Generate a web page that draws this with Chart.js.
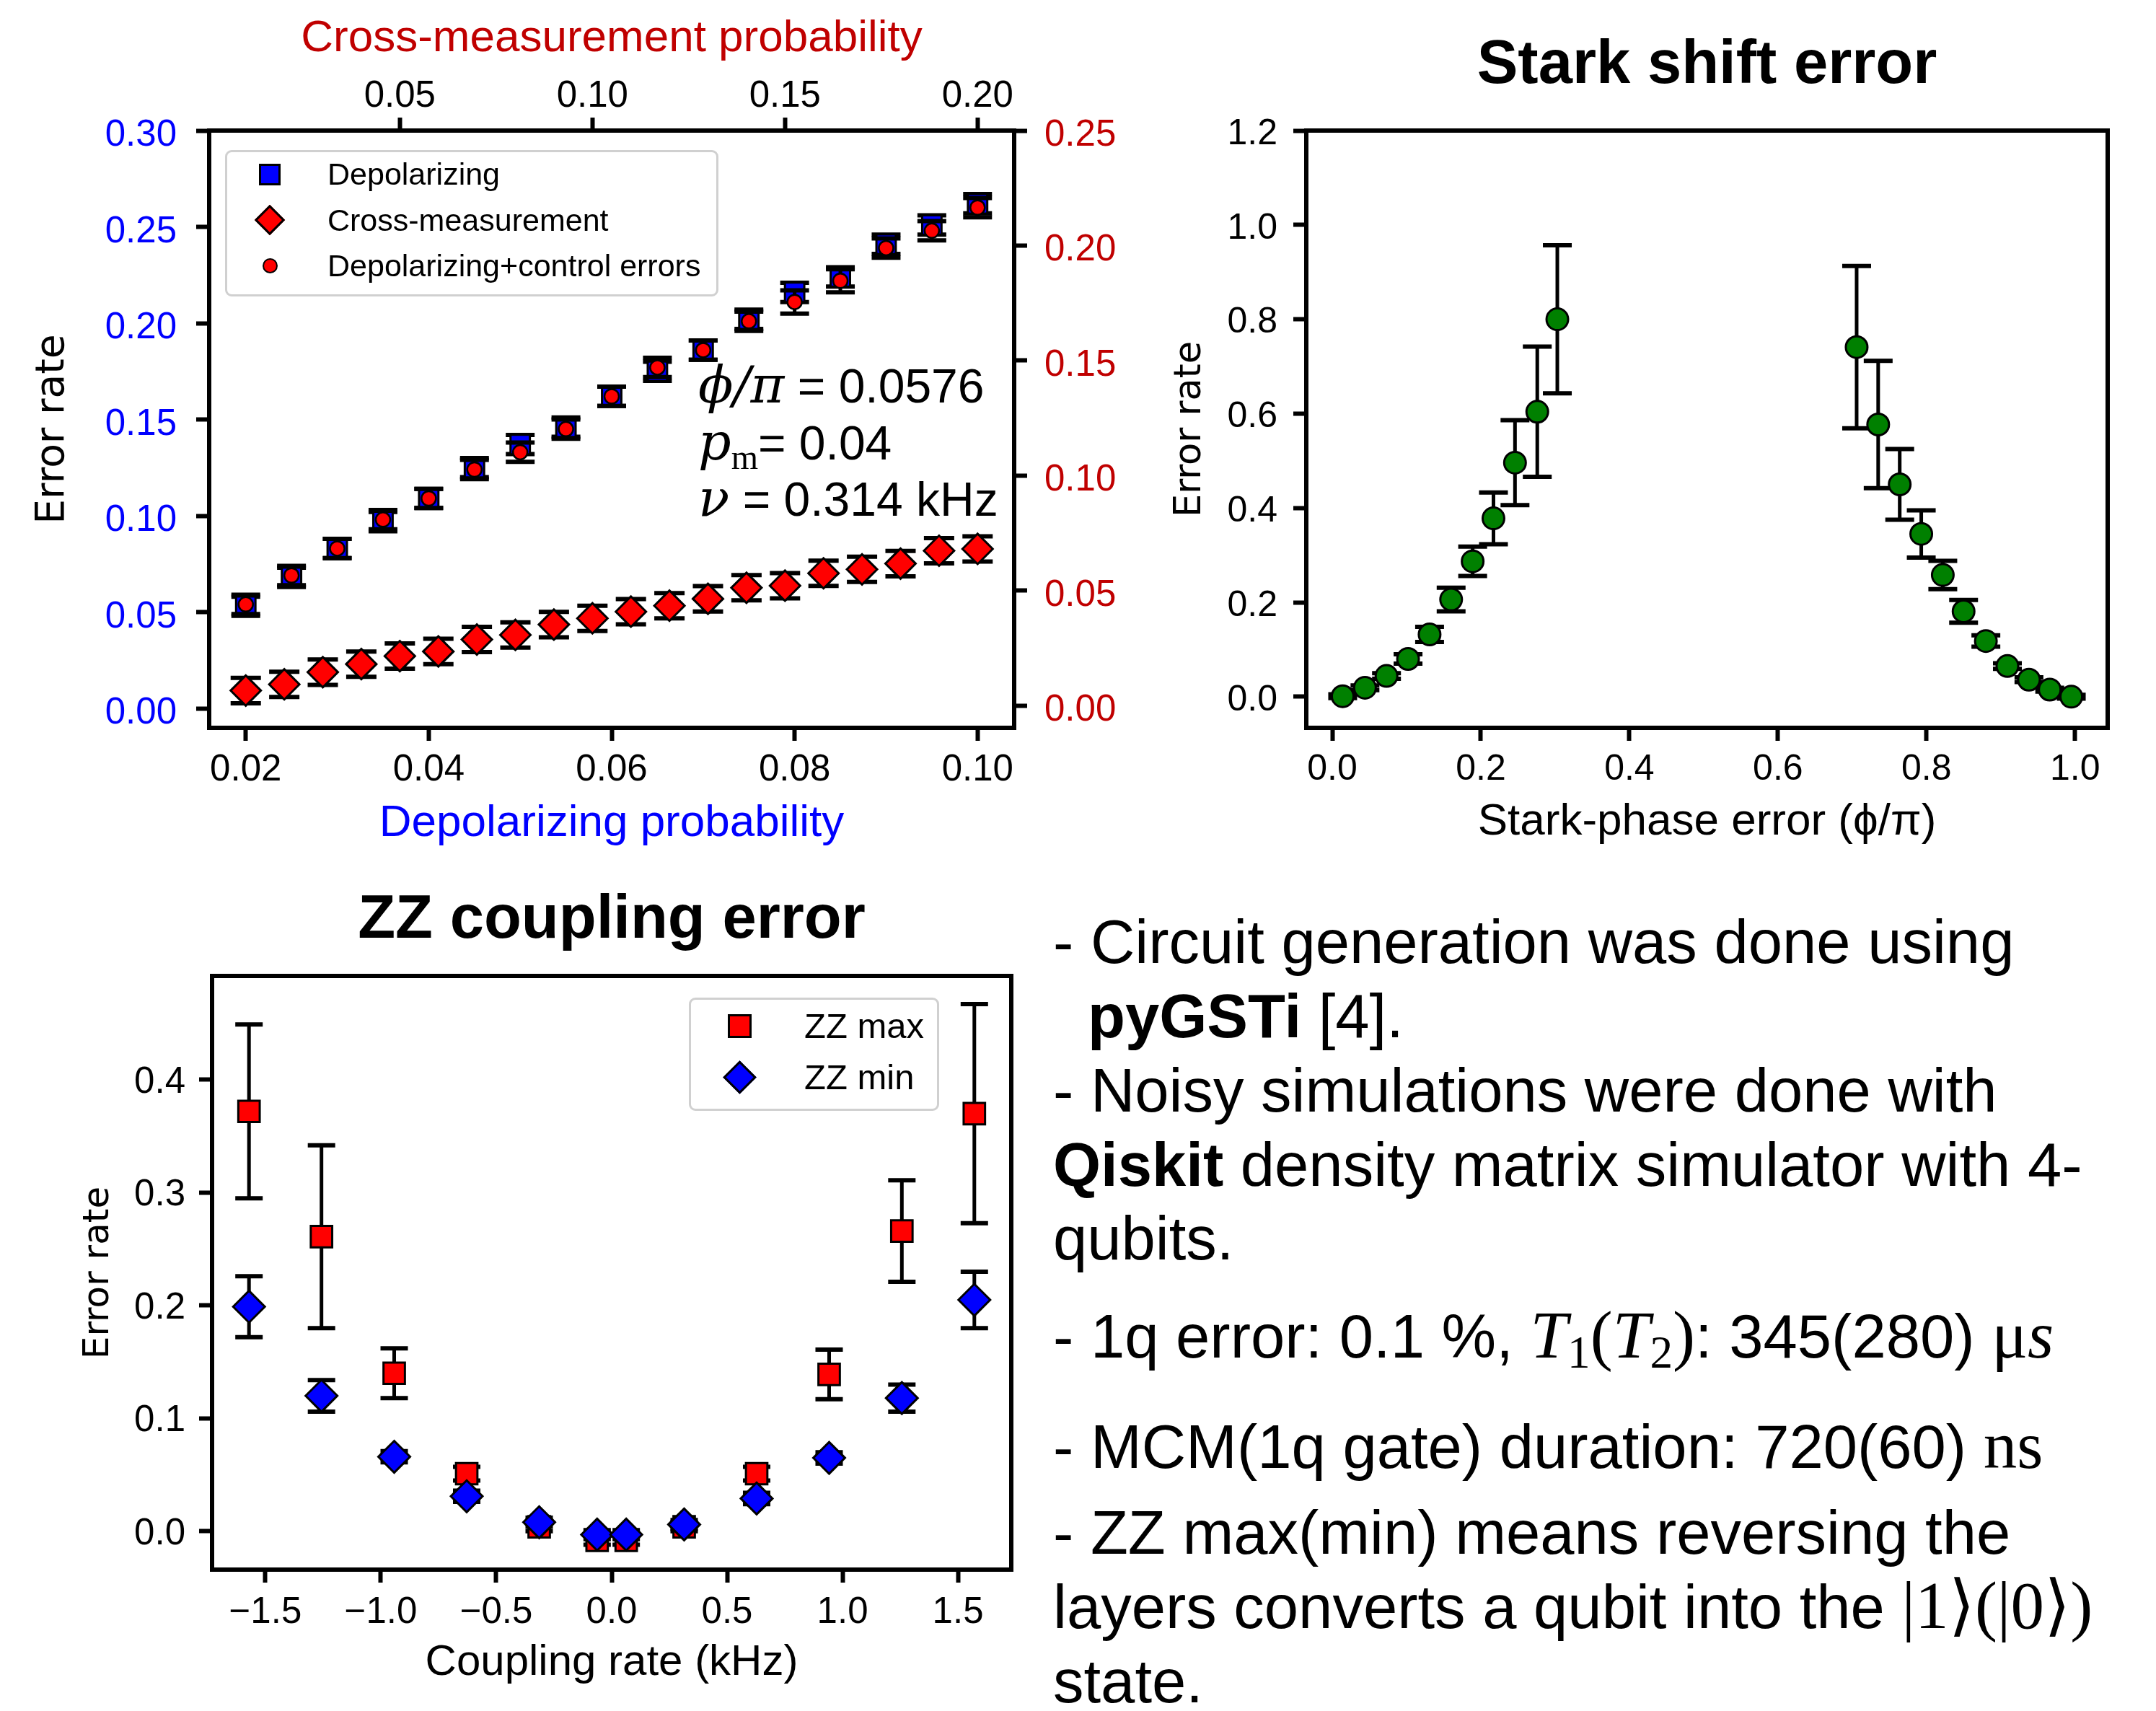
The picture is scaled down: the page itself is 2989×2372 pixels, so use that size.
<!DOCTYPE html>
<html>
<head>
<meta charset="utf-8">
<title>Error rates</title>
<script src="https://cdn.jsdelivr.net/npm/chart.js@4.4.1/dist/chart.umd.min.js"></script>
<style>
  body { margin:0; width:2989px; height:2372px; position:relative; background:#fff; overflow:hidden;
         font-family:"Liberation Sans", Arial, sans-serif; color:#000; }
  canvas { position:absolute; }
  .legend { position:absolute; border:3px solid #d0d0d0; border-radius:9px; background:rgba(255,255,255,0.8); box-sizing:border-box; }
  .lbl { position:absolute; white-space:nowrap; }
  .mk { position:absolute; box-sizing:border-box; border:3px solid #000; }
  .ann { position:absolute; left:968px; font-size:66px; line-height:66px; white-space:nowrap; }
  .mi { font-family:"DejaVu Serif", "Liberation Serif", serif; font-style:italic; line-height:0; font-size:1.08em; }
  .mr { font-family:"Liberation Serif", "DejaVu Serif", serif; line-height:0; }
  .txt { position:absolute; left:1460px; font-size:85px; line-height:85px; white-space:nowrap; }
  .ms { font-family:"Liberation Serif", "DejaVu Serif", serif; font-size:93px; line-height:0; }
  .ms sub { font-size:0.68em; vertical-align:-0.22em; line-height:0; }
</style>
</head>
<body>
<canvas id="depolChart" width="1580" height="1200" style="left:0;top:0"></canvas>
<canvas id="starkChart" width="1389" height="1200" style="left:1600px;top:0"></canvas>
<canvas id="zzChart" width="1450" height="1172" style="left:0;top:1200px"></canvas>

<!-- legend, top left panel -->
<div class="legend" style="left:312px;top:208px;width:684px;height:203px;"></div>
<div class="mk" style="left:359px;top:227px;width:30px;height:30px;background:#0000ff;"></div>
<div class="mk" style="left:359px;top:290px;width:30px;height:30px;background:#ff0000;transform:rotate(45deg);"></div>
<div class="mk" style="left:364px;top:358px;width:21px;height:21px;background:#ff0000;border-width:2.5px;border-radius:50%;"></div>
<div class="lbl" style="left:454px;top:220px;font-size:43px;line-height:43px;">Depolarizing</div>
<div class="lbl" style="left:454px;top:284px;font-size:43px;line-height:43px;">Cross-measurement</div>
<div class="lbl" style="left:454px;top:347px;font-size:43px;line-height:43px;">Depolarizing+control errors</div>

<!-- parameters, top left panel -->
<div class="ann" style="top:502px"><span class="mi">ϕ/π</span> = 0.0576</div>
<div class="ann" style="top:581px"><span class="mi">p</span><span class="mr" style="font-size:48px;position:relative;top:13px;">m</span>= 0.04</div>
<div class="ann" style="top:659px"><span class="mi">ν</span> = 0.314 kHz</div>

<!-- legend, ZZ panel -->
<div class="legend" style="left:955px;top:1383px;width:347px;height:157px;"></div>
<div class="mk" style="left:1009px;top:1406px;width:33px;height:33px;background:#ff0000;"></div>
<div class="mk" style="left:1009px;top:1477px;width:33px;height:33px;background:#0000ff;transform:rotate(45deg);"></div>
<div class="lbl" style="left:1115px;top:1398px;font-size:49px;line-height:49px;">ZZ max</div>
<div class="lbl" style="left:1115px;top:1469px;font-size:49px;line-height:49px;">ZZ min</div>

<!-- notes -->
<div class="txt" style="top:1263px">- Circuit generation was done using</div>
<div class="txt" style="top:1366px;left:1508px"><b>pyGSTi</b> [4].</div>
<div class="txt" style="top:1469px">- Noisy simulations were done with</div>
<div class="txt" style="top:1572px"><b>Qiskit</b> density matrix simulator with 4-</div>
<div class="txt" style="top:1674px">qubits.</div>
<div class="txt" style="top:1810px">- 1q error: 0.1 %, <span class="ms"><i>T</i><sub>1</sub>(<i>T</i><sub>2</sub>)</span>: 345(280) <span class="ms">μ<i>s</i></span></div>
<div class="txt" style="top:1963px">- MCM(1q gate) duration: 720(60) <span class="ms">ns</span></div>
<div class="txt" style="top:2082px">- ZZ max(min) means reversing the</div>
<div class="txt" style="top:2185px">layers converts a qubit into the <span class="ms">|1⟩(|0⟩)</span></div>
<div class="txt" style="top:2288px">state.</div>

<script>
// depolarizing / cross-measurement panel
var depolProb = [0.020, 0.025, 0.030, 0.035, 0.040, 0.045, 0.050, 0.055, 0.060, 0.065, 0.070, 0.075, 0.080, 0.085, 0.090, 0.095, 0.100];
var depolRate = [0.053, 0.068, 0.083, 0.097, 0.109, 0.125, 0.137, 0.146, 0.162, 0.175, 0.186, 0.202, 0.216, 0.224, 0.241, 0.251, 0.262];
var depolErr  = [0.005, 0.005, 0.005, 0.005, 0.005, 0.005, 0.005, 0.005, 0.005, 0.005, 0.005, 0.005, 0.005, 0.005, 0.005, 0.005, 0.005];
var ctrlRate  = [0.054, 0.069, 0.083, 0.098, 0.109, 0.124, 0.133, 0.145, 0.162, 0.177, 0.186, 0.201, 0.211, 0.222, 0.239, 0.248, 0.260];
var ctrlErr   = [0.005, 0.005, 0.005, 0.005, 0.005, 0.005, 0.005, 0.005, 0.005, 0.005, 0.005, 0.005, 0.006, 0.006, 0.005, 0.005, 0.005];
var crossProb = [0.01, 0.02, 0.03, 0.04, 0.05, 0.06, 0.07, 0.08, 0.09, 0.10, 0.11, 0.12, 0.13, 0.14, 0.15, 0.16, 0.17, 0.18, 0.19, 0.20];
var crossRate = [0.0065, 0.0092, 0.0145, 0.0180, 0.0215, 0.0235, 0.0287, 0.0307, 0.0352, 0.0379, 0.0408, 0.0434, 0.0464, 0.0512, 0.0521, 0.0575, 0.0592, 0.0617, 0.0673, 0.0681];
var crossErr  = [0.0055, 0.0055, 0.0055, 0.0055, 0.0055, 0.0055, 0.0055, 0.0055, 0.0055, 0.0055, 0.0055, 0.0055, 0.0055, 0.0055, 0.0055, 0.0055, 0.0055, 0.0055, 0.0055, 0.0055];
var depolTicks = [0.02, 0.04, 0.06, 0.08, 0.10];
var crossTicks = [0.05, 0.10, 0.15, 0.20];
var leftTicks  = [0, 0.05, 0.10, 0.15, 0.20, 0.25, 0.30];
var rightTicks = [0, 0.05, 0.10, 0.15, 0.20, 0.25];

// stark shift panel
var starkPhase = [0.014, 0.044, 0.073, 0.102, 0.131, 0.160, 0.189, 0.217, 0.246, 0.276, 0.303,
                  0.706, 0.735, 0.764, 0.793, 0.822, 0.850, 0.880, 0.909, 0.938, 0.966, 0.995];
var starkRate  = [0.001, 0.019, 0.044, 0.080, 0.132, 0.206, 0.287, 0.378, 0.496, 0.604, 0.800,
                  0.741, 0.577, 0.450, 0.345, 0.258, 0.181, 0.118, 0.065, 0.036, 0.015, 0.000];
var starkErr   = [0.004, 0.005, 0.006, 0.010, 0.016, 0.025, 0.031, 0.055, 0.090, 0.138, 0.157,
                  0.172, 0.135, 0.075, 0.050, 0.030, 0.024, 0.012, 0.006, 0.005, 0.004, 0.004];
var starkXTicks = [0, 0.2, 0.4, 0.6, 0.8, 1.0];
var starkYTicks = [0, 0.2, 0.4, 0.6, 0.8, 1.0, 1.2];

// ZZ coupling panel
var zzRate   = [-1.571, -1.257, -0.942, -0.628, -0.314, -0.063, 0.063, 0.314, 0.628, 0.942, 1.257, 1.571];
var zzMax    = [0.372, 0.261, 0.140, 0.051, 0.004, -0.008, -0.008, 0.004, 0.051, 0.139, 0.266, 0.370];
var zzMaxErr = [0.077, 0.081, 0.022, 0.006, 0.004, 0.004, 0.004, 0.004, 0.006, 0.022, 0.045, 0.097];
var zzMin    = [0.199, 0.120, 0.066, 0.031, 0.008, -0.003, -0.003, 0.006, 0.029, 0.065, 0.118, 0.205];
var zzMinErr = [0.027, 0.014, 0.005, 0.005, 0.004, 0.004, 0.004, 0.004, 0.005, 0.005, 0.012, 0.025];
var zzXTicks = [-1.5, -1.0, -0.5, 0, 0.5, 1.0, 1.5];
var zzYTicks = [0, 0.1, 0.2, 0.3, 0.4];


function toPoints(xs, ys) {
    return xs.map(function (x, i) { return { x: x, y: ys[i] }; });
}

// vertical error bars, drawn just before each dataset's markers
var errorBars = {
    id: 'errorBars',
    beforeDatasetDraw: function (chart, args) {
        var ds = chart.data.datasets[args.index];
        if (!ds.errors) return;
        var xs = chart.scales[args.meta.xAxisID], ys = chart.scales[args.meta.yAxisID];
        var ctx = chart.ctx, cap = ds.capHalf || 20;
        ctx.save();
        ctx.strokeStyle = '#000';
        ds.data.forEach(function (p, i) {
            var x = xs.getPixelForValue(p.x);
            var lo = ys.getPixelForValue(p.y - ds.errors[i]);
            var hi = ys.getPixelForValue(p.y + ds.errors[i]);
            ctx.lineWidth = 5;
            ctx.beginPath(); ctx.moveTo(x, lo); ctx.lineTo(x, hi); ctx.stroke();
            ctx.lineWidth = 6;
            ctx.beginPath();
            ctx.moveTo(x - cap, lo); ctx.lineTo(x + cap, lo);
            ctx.moveTo(x - cap, hi); ctx.lineTo(x + cap, hi);
            ctx.stroke();
        });
        ctx.restore();
    }
};

// box round the plot area
var frame = {
    id: 'frame',
    afterDatasetsDraw: function (chart) {
        var a = chart.chartArea, ctx = chart.ctx;
        ctx.save();
        ctx.lineWidth = 6;
        ctx.strokeStyle = '#000';
        ctx.strokeRect(a.left, a.top, a.right - a.left, a.bottom - a.top);
        ctx.restore();
    }
};

function linAxis(o) {
    return {
        type: 'linear', axis: o.axis, position: o.position, min: o.min, max: o.max,
        grid: { display: true, drawOnChartArea: false, drawTicks: true, tickLength: 18, tickWidth: 6, tickColor: '#000' },
        border: { display: false },
        ticks: {
            color: o.color || '#000', padding: o.pad, labelOffset: o.shift || 0,
            autoSkip: false, maxRotation: 0, minRotation: 0,
            font: { family: 'Liberation Sans', size: o.fontSize || 51 },
            callback: function (v) { return Number(v).toFixed(o.digits).replace('-', '\u2212'); }
        },
        title: o.title ? {
            display: true, text: o.title, color: o.titleColor || '#000', padding: o.titlePad,
            font: { family: o.titleFamily || 'Liberation Sans', size: o.titleSize }
        } : { display: false },
        afterBuildTicks: function (s) { s.ticks = o.ticks.map(function (v) { return { value: v }; }); },
        afterFit: function (s) {
            if (s.isHorizontal()) s.height = o.box; else s.width = o.box;
            s.paddingLeft = 0; s.paddingRight = 0; s.paddingTop = 0; s.paddingBottom = 0;
        }
    };
}

function series(label, xs, ys, errs, style, opts) {
    return Object.assign({
        label: label, data: toPoints(xs, ys), errors: errs, showLine: false,
        pointStyle: style, pointBorderColor: '#000', pointBorderWidth: 3
    }, opts);
}

var baseOpts = {
    responsive: false, animation: false, devicePixelRatio: 1,
    plugins: { legend: { display: false }, tooltip: { enabled: false } }
};

function drawDepol() {
    var ctx = document.getElementById('depolChart').getContext('2d');
    new Chart(ctx, {
        type: 'scatter',
        data: {
            datasets: [
                series('Depolarizing+control errors', depolProb, ctrlRate, ctrlErr, 'circle',
                    { xAxisID: 'x', yAxisID: 'y', order: 1, pointRadius: 10, pointHoverRadius: 10, pointBorderWidth: 2.5,
                      pointBackgroundColor: '#ff0000', capHalf: 20 }),
                series('Cross-measurement', crossProb, crossRate, crossErr, 'rectRot',
                    { xAxisID: 'x2', yAxisID: 'y2', order: 2, pointRadius: 21, pointHoverRadius: 21,
                      pointBackgroundColor: '#ff0000', capHalf: 21 }),
                series('Depolarizing', depolProb, depolRate, depolErr, 'rect',
                    { xAxisID: 'x', yAxisID: 'y', order: 3, pointRadius: 19, pointHoverRadius: 19,
                      pointBackgroundColor: '#0000ff', capHalf: 20 })
            ]
        },
        options: Object.assign({}, baseOpts, {
            scales: {
                x: linAxis({ axis: 'x', position: 'bottom', min: 0.016, max: 0.104, ticks: depolTicks, digits: 2, pad: 10, box: 191,
                             title: 'Depolarizing probability', titleColor: '#0000ff', titleSize: 62, titlePad: { top: 0, bottom: 21 } }),
                x2: linAxis({ axis: 'x', position: 'top', min: 0.0005, max: 0.2095, ticks: crossTicks, digits: 2, pad: -2, box: 181,
                              title: 'Cross-measurement probability', titleColor: '#c00000', titleSize: 62, titlePad: { top: 17, bottom: 0 } }),
                y: linAxis({ axis: 'y', position: 'left', min: -0.0101, max: 0.30, ticks: leftTicks, digits: 2, pad: 27, box: 290,
                             shift: 7, color: '#0000ff', title: 'Error rate', titleFamily: 'DejaVu Sans', titleSize: 55, titlePad: { top: 41, bottom: 0 } }),
                y2: linAxis({ axis: 'y', position: 'right', min: -0.0097, max: 0.25, ticks: rightTicks, digits: 2, pad: 24, box: 174,
                              shift: 7, color: '#c00000' })
            }
        }),
        plugins: [errorBars, frame]
    });
}

function drawStark() {
    var ctx = document.getElementById('starkChart').getContext('2d');
    new Chart(ctx, {
        type: 'scatter',
        data: {
            datasets: [
                series('Stark shift', starkPhase, starkRate, starkErr, 'circle',
                    { pointRadius: 15, pointHoverRadius: 15, pointBackgroundColor: '#008000', capHalf: 20 })
            ]
        },
        options: Object.assign({}, baseOpts, {
            layout: { padding: { right: 67 } },
            plugins: {
                legend: { display: false }, tooltip: { enabled: false },
                title: { display: true, text: 'Stark shift error', fullSize: false, color: '#000',
                         font: { family: 'Liberation Sans', size: 85, weight: 'bold' }, padding: { top: 41, bottom: 38 } }
            },
            scales: {
                x: linAxis({ axis: 'x', position: 'bottom', min: -0.035, max: 1.044, ticks: starkXTicks, digits: 1, pad: 10, box: 191,
                             fontSize: 50, title: 'Stark-phase error (ϕ/π)', titleSize: 62, titlePad: { top: 0, bottom: 23 } }),
                y: linAxis({ axis: 'y', position: 'left', min: -0.066, max: 1.2, ticks: starkYTicks, digits: 1, pad: 22, box: 211,
                             shift: 5, fontSize: 50, title: 'Error rate', titleFamily: 'DejaVu Sans', titleSize: 51, titlePad: { top: 20, bottom: 0 } })
            }
        }),
        plugins: [errorBars, frame]
    });
}

function drawZZ() {
    var ctx = document.getElementById('zzChart').getContext('2d');
    new Chart(ctx, {
        type: 'scatter',
        data: {
            datasets: [
                series('ZZ min', zzRate, zzMin, zzMinErr, 'rectRot',
                    { order: 1, pointRadius: 22, pointHoverRadius: 22, pointBackgroundColor: '#0000ff', capHalf: 19 }),
                series('ZZ max', zzRate, zzMax, zzMaxErr, 'rect',
                    { order: 2, pointRadius: 21, pointHoverRadius: 21, pointBackgroundColor: '#ff0000', capHalf: 19 })
            ]
        },
        options: Object.assign({}, baseOpts, {
            layout: { padding: { right: 48 } },
            plugins: {
                legend: { display: false }, tooltip: { enabled: false },
                title: { display: true, text: 'ZZ coupling error', fullSize: false, color: '#000',
                         font: { family: 'Liberation Sans', size: 85, weight: 'bold' }, padding: { top: 26, bottom: 25 } }
            },
            scales: {
                x: linAxis({ axis: 'x', position: 'bottom', min: -1.731, max: 1.731, ticks: zzXTicks, digits: 1, pad: 11, box: 196,
                             title: 'Coupling rate (kHz)', titleSize: 60, titlePad: { top: 0, bottom: 31 } }),
                y: linAxis({ axis: 'y', position: 'left', min: -0.034, max: 0.492, ticks: zzYTicks, digits: 1, pad: 19, box: 294,
                             shift: 4, title: 'Error rate', titleFamily: 'DejaVu Sans', titleSize: 50, titlePad: { top: 107, bottom: 0 } })
            }
        }),
        plugins: [errorBars, frame]
    });
}

drawDepol();
drawStark();
drawZZ();
</script>
</body>
</html>
